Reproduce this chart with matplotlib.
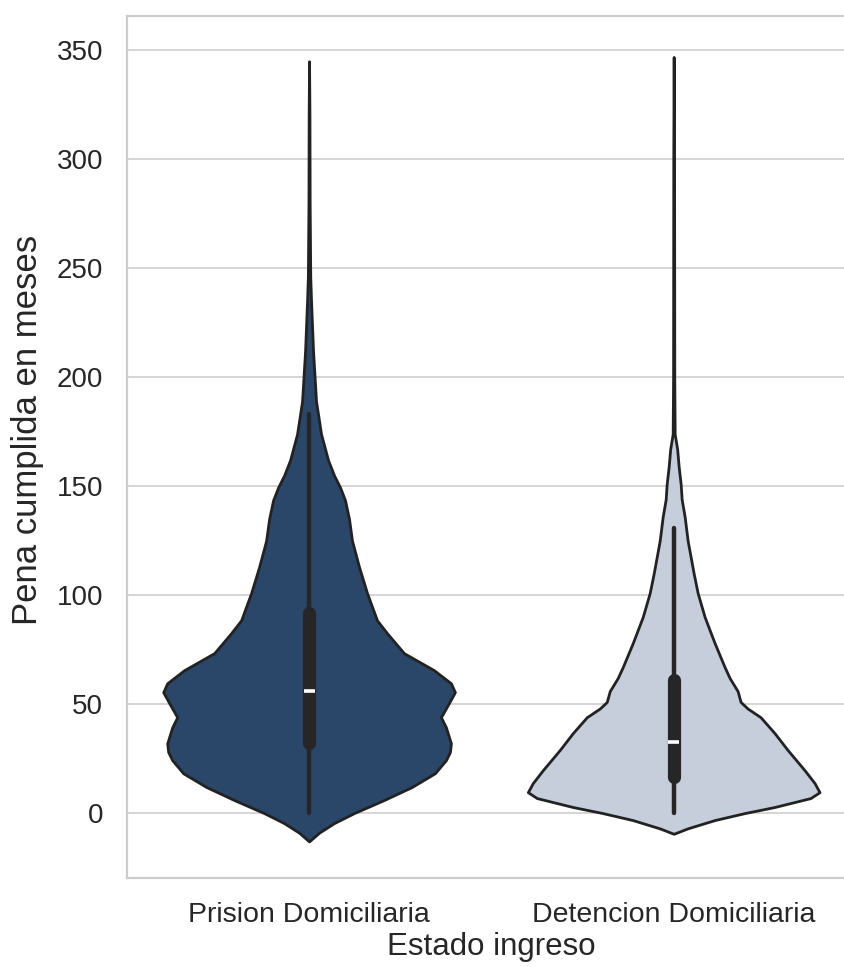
import matplotlib
matplotlib.use("Agg")
import matplotlib.pyplot as plt
import numpy as np

plt.rcParams["font.family"] = ["Liberation Sans", "DejaVu Sans"]

categories = ["Prision Domiciliaria", "Detencion Domiciliaria"]
colors = ["#2a476a", "#c5ceda"]

# violin outline: half-width of the density at each value (months)
prision_y = [-13, -9, -4.6, 0, 6, 12, 18.3, 24.3, 28, 32, 39.4,
             44, 50.5, 55.5, 59.6, 65.6, 73.4, 82.6, 88.5, 101, 113,
             125, 135, 143.6, 149.5, 155, 162, 174, 189, 212, 235, 246, 280,
             320, 345]
prision_width = [0, 10, 25, 45, 75, 103, 126, 137, 141, 142, 137,
                 132, 140, 146, 142, 125, 95, 78, 68, 58, 50,
                 43, 40, 36, 31, 25, 19, 12, 7, 4, 2, 1.2, 0.6,
                 0.4, 0]

detencion_y = [-9.5, -7, -3.2, 0, 2.8, 6.9, 9.6, 13.8, 19.7, 29,
               36.7, 44, 48, 51, 56, 62, 67, 78, 90, 101,
               110, 125, 136, 144, 151, 159, 167, 174, 200, 250,
               300, 347]
detencion_width = [0, 14, 41, 71, 101, 137, 146, 141, 131, 114,
                   101, 87, 74, 67, 64, 56, 51, 41, 31, 24,
                   20, 14, 11, 8, 7, 5, 3.5, 1, 0.6, 0.5,
                   0.4, 0]

# box summary: whisker low, q1, median, q3, whisker high
whisker_low = [0, 0]
q1 = [32, 16.7]
median = [56, 32.7]
q3 = [92, 61]
whisker_high = [183, 131]

fig = plt.figure(figsize=(8.45, 9.67), dpi=100)
ax = fig.add_axes([0.150, 0.092, 0.863, 0.891])

stats = []
for ys, ws, med in [(prision_y, prision_width, median[0]),
                    (detencion_y, detencion_width, median[1])]:
    stats.append(dict(coords=np.array(ys, dtype=float),
                      vals=np.array(ws, dtype=float),
                      mean=med, median=med,
                      min=min(ys), max=max(ys)))

positions = np.arange(len(categories))
parts = ax.violin(stats, positions=positions, widths=0.8,
                  showmeans=False, showextrema=False, showmedians=False)
for body, color in zip(parts["bodies"], colors):
    body.set_facecolor(color)
    body.set_edgecolor("#222222")
    body.set_linewidth(2)
    body.set_joinstyle("round")
    body.set_alpha(1)
    body.set_zorder(2)

for i, pos in enumerate(positions):
    ax.plot([pos, pos], [whisker_low[i], whisker_high[i]], color="#262626",
            lw=3.2, solid_capstyle="round", zorder=3)
    ax.plot([pos, pos], [q1[i], q3[i]], color="#262626",
            lw=9.5, solid_capstyle="round", zorder=4)
    ax.plot([pos - 0.015, pos + 0.015], [median[i], median[i]], color="white",
            lw=2.6, solid_capstyle="butt", zorder=5)

ax.set_xlim(-0.5, 1.5)
ax.set_ylim(-29.8, 365.6)
ax.set_xticks(positions)
ax.set_xticklabels(categories)
ax.set_yticks(np.arange(0, 351, 50))

ax.set_axisbelow(True)
ax.yaxis.grid(True, color="#d5d5d5", lw=1.4)
ax.xaxis.grid(False)
for spine in ax.spines.values():
    spine.set_color("#cccccc")
    spine.set_linewidth(1.6)

ax.tick_params(axis="y", length=0, pad=17, labelsize=20, labelcolor="#262626")
ax.tick_params(axis="x", length=0, pad=17, labelsize=20.5, labelcolor="#262626")
ax.set_xlabel("Estado ingreso", fontsize=22.5, labelpad=3, color="#262626")
ax.set_ylabel("Pena cumplida en meses", fontsize=25, color="#262626")
ax.yaxis.set_label_coords(-0.113, 0.52)

fig.savefig("out.png", dpi=100)
